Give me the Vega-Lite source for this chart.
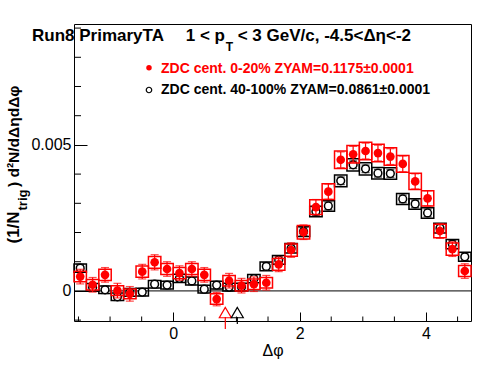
{
  "$schema": "https://vega.github.io/schema/vega-lite/v6.json",
  "width": 397,
  "height": 297,
  "autosize": {"type": "none"},
  "padding": {"left": 74, "top": 24, "right": 25, "bottom": 53},
  "background": "white",
  "config": {
    "view": {"stroke": "black", "strokeWidth": 1},
    "axis": {"domain": false, "grid": false, "labelFont": "Liberation Sans", "labelFontSize": 16, "labelColor": "black", "tickColor": "black", "titleFont": "Liberation Sans", "titleFontWeight": "normal", "titleColor": "black", "labelOverlap": false, "labelFlush": false}
  },
  "datasets": {
    "red": [
      {"phi": -1.4726, "lo": -1.5708, "hi": -1.3744, "v": 0.00049, "e": 0.00025, "slo": 0.00031, "shi": 0.00067},
      {"phi": -1.2763, "lo": -1.3744, "hi": -1.1781, "v": 0.00021, "e": 0.00025, "slo": 0.00003, "shi": 0.00039},
      {"phi": -1.0799, "lo": -1.1781, "hi": -0.9817, "v": 0.00055, "e": 0.00025, "slo": 0.00036, "shi": 0.00074},
      {"phi": -0.8836, "lo": -0.9817, "hi": -0.7854, "v": 0.00001, "e": 0.00025, "slo": -0.00016, "shi": 0.00018},
      {"phi": -0.6872, "lo": -0.7854, "hi": -0.5890, "v": -0.0001, "e": 0.00025, "slo": -0.00027, "shi": 0.00007},
      {"phi": -0.4909, "lo": -0.5890, "hi": -0.3927, "v": 0.00066, "e": 0.00025, "slo": 0.00047, "shi": 0.00085},
      {"phi": -0.2945, "lo": -0.3927, "hi": -0.1963, "v": 0.00098, "e": 0.00026, "slo": 0.00078, "shi": 0.00118},
      {"phi": -0.0982, "lo": -0.1963, "hi": 0.0, "v": 0.00075, "e": 0.00025, "slo": 0.00056, "shi": 0.00094},
      {"phi": 0.0982, "lo": 0.0, "hi": 0.1963, "v": 0.00061, "e": 0.00025, "slo": 0.00042, "shi": 0.0008},
      {"phi": 0.2945, "lo": 0.1963, "hi": 0.3927, "v": 0.00075, "e": 0.00025, "slo": 0.00056, "shi": 0.00094},
      {"phi": 0.4909, "lo": 0.3927, "hi": 0.5890, "v": 0.00055, "e": 0.00025, "slo": 0.00036, "shi": 0.00074},
      {"phi": 0.6872, "lo": 0.5890, "hi": 0.7854, "v": -0.00028, "e": 0.00023, "slo": -0.00046, "shi": -0.0001},
      {"phi": 0.8836, "lo": 0.7854, "hi": 0.9817, "v": 0.00035, "e": 0.00025, "slo": 0.00017, "shi": 0.00053},
      {"phi": 1.0799, "lo": 0.9817, "hi": 1.1781, "v": 0.00018, "e": 0.00025, "slo": 0.0, "shi": 0.00036},
      {"phi": 1.2763, "lo": 1.1781, "hi": 1.3744, "v": 0.00023, "e": 0.00025, "slo": 0.00005, "shi": 0.00041},
      {"phi": 1.4726, "lo": 1.3744, "hi": 1.5708, "v": 0.00028, "e": 0.00025, "slo": 0.0001, "shi": 0.00046},
      {"phi": 1.669, "lo": 1.5708, "hi": 1.7671, "v": 0.00091, "e": 0.00025, "slo": 0.00071, "shi": 0.00111},
      {"phi": 1.8653, "lo": 1.7671, "hi": 1.9635, "v": 0.0014, "e": 0.00025, "slo": 0.00119, "shi": 0.00161},
      {"phi": 2.0617, "lo": 1.9635, "hi": 2.1598, "v": 0.00201, "e": 0.00025, "slo": 0.00178, "shi": 0.00224},
      {"phi": 2.258, "lo": 2.1598, "hi": 2.3562, "v": 0.00287, "e": 0.00026, "slo": 0.00262, "shi": 0.00312},
      {"phi": 2.4544, "lo": 2.3562, "hi": 2.5525, "v": 0.0034, "e": 0.00026, "slo": 0.00313, "shi": 0.00367},
      {"phi": 2.6507, "lo": 2.5525, "hi": 2.7489, "v": 0.00449, "e": 0.00027, "slo": 0.00419, "shi": 0.00479},
      {"phi": 2.8471, "lo": 2.7489, "hi": 2.9452, "v": 0.00468, "e": 0.00027, "slo": 0.00438, "shi": 0.00498},
      {"phi": 3.0434, "lo": 2.9452, "hi": 3.1416, "v": 0.00479, "e": 0.00027, "slo": 0.00449, "shi": 0.00509},
      {"phi": 3.2398, "lo": 3.1416, "hi": 3.3379, "v": 0.00472, "e": 0.00027, "slo": 0.00442, "shi": 0.00502},
      {"phi": 3.4361, "lo": 3.3379, "hi": 3.5343, "v": 0.0046, "e": 0.00027, "slo": 0.0043, "shi": 0.0049},
      {"phi": 3.6325, "lo": 3.5343, "hi": 3.7306, "v": 0.00435, "e": 0.00027, "slo": 0.00406, "shi": 0.00464},
      {"phi": 3.8288, "lo": 3.7306, "hi": 3.927, "v": 0.00375, "e": 0.00026, "slo": 0.00347, "shi": 0.00403},
      {"phi": 4.0252, "lo": 3.927, "hi": 4.1233, "v": 0.00317, "e": 0.00026, "slo": 0.00291, "shi": 0.00343},
      {"phi": 4.2215, "lo": 4.1233, "hi": 4.3197, "v": 0.00205, "e": 0.00025, "slo": 0.00182, "shi": 0.00228},
      {"phi": 4.4179, "lo": 4.3197, "hi": 4.516, "v": 0.00143, "e": 0.00025, "slo": 0.00122, "shi": 0.00164},
      {"phi": 4.6142, "lo": 4.516, "hi": 4.7124, "v": 0.00068, "e": 0.00025, "slo": 0.00049, "shi": 0.00087}
    ],
    "black": [
      {"phi": -1.4726, "lo": -1.5708, "hi": -1.3744, "v": 0.00078, "e": 0.00013, "slo": 0.00064, "shi": 0.00092},
      {"phi": -1.2763, "lo": -1.3744, "hi": -1.1781, "v": 0.00012, "e": 0.00013, "slo": -0.00001, "shi": 0.00025},
      {"phi": -1.0799, "lo": -1.1781, "hi": -0.9817, "v": 0.00004, "e": 0.00013, "slo": -0.00009, "shi": 0.00017},
      {"phi": -0.8836, "lo": -0.9817, "hi": -0.7854, "v": -0.0002, "e": 0.00013, "slo": -0.00033, "shi": -0.00007},
      {"phi": -0.6872, "lo": -0.7854, "hi": -0.5890, "v": -0.00005, "e": 0.00013, "slo": -0.00018, "shi": 0.00008},
      {"phi": -0.4909, "lo": -0.5890, "hi": -0.3927, "v": -0.00004, "e": 0.00013, "slo": -0.00017, "shi": 0.00009},
      {"phi": -0.2945, "lo": -0.3927, "hi": -0.1963, "v": 0.00023, "e": 0.00013, "slo": 0.0001, "shi": 0.00036},
      {"phi": -0.0982, "lo": -0.1963, "hi": 0.0, "v": 0.0002, "e": 0.00013, "slo": 0.00007, "shi": 0.00033},
      {"phi": 0.0982, "lo": 0.0, "hi": 0.1963, "v": 0.00043, "e": 0.00013, "slo": 0.00029, "shi": 0.00057},
      {"phi": 0.2945, "lo": 0.1963, "hi": 0.3927, "v": 0.00034, "e": 0.00013, "slo": 0.0002, "shi": 0.00048},
      {"phi": 0.4909, "lo": 0.3927, "hi": 0.5890, "v": 0.00006, "e": 0.00013, "slo": -0.00007, "shi": 0.00019},
      {"phi": 0.6872, "lo": 0.5890, "hi": 0.7854, "v": 0.0002, "e": 0.00013, "slo": 0.00007, "shi": 0.00033},
      {"phi": 0.8836, "lo": 0.7854, "hi": 0.9817, "v": 0.00013, "e": 0.00013, "slo": 0.0, "shi": 0.00026},
      {"phi": 1.0799, "lo": 0.9817, "hi": 1.1781, "v": 0.00013, "e": 0.00013, "slo": 0.0, "shi": 0.00026},
      {"phi": 1.2763, "lo": 1.1781, "hi": 1.3744, "v": 0.00042, "e": 0.00013, "slo": 0.00028, "shi": 0.00056},
      {"phi": 1.4726, "lo": 1.3744, "hi": 1.5708, "v": 0.00084, "e": 0.00013, "slo": 0.00069, "shi": 0.00099},
      {"phi": 1.669, "lo": 1.5708, "hi": 1.7671, "v": 0.00106, "e": 0.00013, "slo": 0.00091, "shi": 0.00121},
      {"phi": 1.8653, "lo": 1.7671, "hi": 1.9635, "v": 0.00146, "e": 0.00013, "slo": 0.0013, "shi": 0.00162},
      {"phi": 2.0617, "lo": 1.9635, "hi": 2.1598, "v": 0.00203, "e": 0.00013, "slo": 0.00186, "shi": 0.0022},
      {"phi": 2.258, "lo": 2.1598, "hi": 2.3562, "v": 0.00272, "e": 0.00013, "slo": 0.00254, "shi": 0.0029},
      {"phi": 2.4544, "lo": 2.3562, "hi": 2.5525, "v": 0.00291, "e": 0.00013, "slo": 0.00273, "shi": 0.00309},
      {"phi": 2.6507, "lo": 2.5525, "hi": 2.7489, "v": 0.00377, "e": 0.00013, "slo": 0.00357, "shi": 0.00397},
      {"phi": 2.8471, "lo": 2.7489, "hi": 2.9452, "v": 0.00432, "e": 0.00013, "slo": 0.00411, "shi": 0.00453},
      {"phi": 3.0434, "lo": 2.9452, "hi": 3.1416, "v": 0.00418, "e": 0.00013, "slo": 0.00397, "shi": 0.00439},
      {"phi": 3.2398, "lo": 3.1416, "hi": 3.3379, "v": 0.00403, "e": 0.00013, "slo": 0.00383, "shi": 0.00423},
      {"phi": 3.4361, "lo": 3.3379, "hi": 3.5343, "v": 0.00402, "e": 0.00013, "slo": 0.00382, "shi": 0.00422},
      {"phi": 3.6325, "lo": 3.5343, "hi": 3.7306, "v": 0.00315, "e": 0.00013, "slo": 0.00296, "shi": 0.00334},
      {"phi": 3.8288, "lo": 3.7306, "hi": 3.927, "v": 0.00298, "e": 0.00013, "slo": 0.0028, "shi": 0.00316},
      {"phi": 4.0252, "lo": 3.927, "hi": 4.1233, "v": 0.00267, "e": 0.00013, "slo": 0.00249, "shi": 0.00285},
      {"phi": 4.2215, "lo": 4.1233, "hi": 4.3197, "v": 0.00215, "e": 0.00013, "slo": 0.00198, "shi": 0.00232},
      {"phi": 4.4179, "lo": 4.3197, "hi": 4.516, "v": 0.0016, "e": 0.00013, "slo": 0.00144, "shi": 0.00176},
      {"phi": 4.6142, "lo": 4.516, "hi": 4.7124, "v": 0.00117, "e": 0.00013, "slo": 0.00102, "shi": 0.00132}
    ],
    "xminor": [{"t": -1.5}, {"t": -1}, {"t": -0.5}, {"t": 0.5}, {"t": 1}, {"t": 1.5}, {"t": 2.5}, {"t": 3}, {"t": 3.5}, {"t": 4.5}],
    "yminor": [{"t": -0.001}, {"t": 0.001}, {"t": 0.002}, {"t": 0.003}, {"t": 0.004}, {"t": 0.006}, {"t": 0.007}, {"t": 0.008}, {"t": 0.009}],
    "one": [{}]
  },
  "layer": [
    {
      "data": {"name": "black"},
      "mark": {"type": "rect", "fillOpacity": 0, "stroke": "black", "strokeWidth": 1.5},
      "encoding": {
        "x": {"field": "lo", "type": "quantitative",
          "scale": {"domain": [-1.5708, 4.7124], "nice": false, "zero": false},
          "axis": {"values": [0, 2, 4], "format": "d", "tickSize": -9,
            "labelOverlap": false, "labelPadding": 13, "title": "Δφ", "titleFontSize": 16, "titlePadding": 1}},
        "x2": {"field": "hi"},
        "y": {"field": "slo", "type": "quantitative",
          "scale": {"domain": [-0.00103, 0.00914], "nice": false, "zero": false},
          "axis": {"values": [0, 0.005], "format": "~g", "tickSize": -13,
            "labelOverlap": false, "labelPadding": 16, "title": null}},
        "y2": {"field": "shi"}
      }
    },
    {
      "data": {"name": "one"},
      "mark": {"type": "rule", "color": "black", "strokeWidth": 1},
      "encoding": {"y": {"datum": 0, "type": "quantitative"}}
    },
    {
      "data": {"name": "xminor"},
      "mark": {"type": "rule", "color": "black", "strokeWidth": 1},
      "encoding": {"x": {"field": "t", "type": "quantitative"}, "y": {"datum": -0.00103, "type": "quantitative"}, "y2": {"datum": -0.000876}}
    },
    {
      "data": {"name": "yminor"},
      "mark": {"type": "rule", "color": "black", "strokeWidth": 1},
      "encoding": {"y": {"field": "t", "type": "quantitative"}, "x": {"datum": -1.5708, "type": "quantitative"}, "x2": {"datum": -1.46}}
    },
    {
      "data": {"name": "black"},
      "mark": {"type": "errorbar", "color": "black", "thickness": 1.2, "ticks": {"size": 8}},
      "encoding": {
        "x": {"field": "phi", "type": "quantitative"},
        "y": {"field": "v", "type": "quantitative"},
        "yError": {"field": "e"}
      }
    },
    {
      "data": {"name": "black"},
      "mark": {"type": "point", "shape": "circle", "filled": true, "fill": "white", "stroke": "black", "strokeWidth": 1.5, "size": 60, "opacity": 1},
      "encoding": {
        "x": {"field": "phi", "type": "quantitative"},
        "y": {"field": "v", "type": "quantitative"}
      }
    },
    {
      "data": {"name": "red"},
      "mark": {"type": "rect", "fillOpacity": 0, "stroke": "#ff0000", "strokeWidth": 1.5},
      "encoding": {
        "x": {"field": "lo", "type": "quantitative"},
        "x2": {"field": "hi"},
        "y": {"field": "slo", "type": "quantitative"},
        "y2": {"field": "shi"}
      }
    },
    {
      "data": {"name": "red"},
      "mark": {"type": "errorbar", "color": "#ff0000", "thickness": 1.2, "ticks": {"size": 8}},
      "encoding": {
        "x": {"field": "phi", "type": "quantitative"},
        "y": {"field": "v", "type": "quantitative"},
        "yError": {"field": "e"}
      }
    },
    {
      "data": {"name": "red"},
      "mark": {"type": "point", "shape": "circle", "filled": true, "color": "#ff0000", "size": 75, "opacity": 1},
      "encoding": {
        "x": {"field": "phi", "type": "quantitative"},
        "y": {"field": "v", "type": "quantitative"}
      }
    },
    {
      "data": {"name": "one"},
      "mark": {"type": "rule", "color": "#ff0000", "strokeWidth": 1.2},
      "encoding": {"x": {"datum": 0.824, "type": "quantitative"}, "y": {"datum": -0.00089, "type": "quantitative"}, "y2": {"datum": -0.0013}}
    },
    {
      "data": {"name": "one"},
      "mark": {"type": "rule", "color": "black", "strokeWidth": 1.2},
      "encoding": {"x": {"datum": 1.014, "type": "quantitative"}, "y": {"datum": -0.00089, "type": "quantitative"}, "y2": {"datum": -0.00113}}
    },
    {
      "data": {"name": "one"},
      "mark": {"type": "point", "shape": "triangle-up", "filled": false, "stroke": "#ff0000", "strokeWidth": 1.2, "size": 144, "opacity": 1},
      "encoding": {"x": {"datum": 0.824, "type": "quantitative"}, "y": {"datum": -0.00074, "type": "quantitative"}}
    },
    {
      "data": {"name": "one"},
      "mark": {"type": "point", "shape": "triangle-up", "filled": false, "stroke": "black", "strokeWidth": 1.2, "size": 144, "opacity": 1},
      "encoding": {"x": {"datum": 1.014, "type": "quantitative"}, "y": {"datum": -0.00074, "type": "quantitative"}}
    },
    {
      "data": {"name": "one"},
      "mark": {"type": "text", "text": "Run8 PrimaryTA", "font": "Liberation Sans", "fontWeight": "bold", "fontSize": 17, "align": "left", "baseline": "alphabetic", "color": "black"},
      "encoding": {"x": {"datum": -2.235, "type": "quantitative"}, "y": {"datum": 0.008568, "type": "quantitative"}}
    },
    {
      "data": {"name": "one"},
      "mark": {"type": "text", "text": "1 < p", "font": "Liberation Sans", "fontWeight": "bold", "fontSize": 17, "align": "left", "baseline": "alphabetic", "color": "black"},
      "encoding": {"x": {"datum": 0.197, "type": "quantitative"}, "y": {"datum": 0.008541, "type": "quantitative"}}
    },
    {
      "data": {"name": "one"},
      "mark": {"type": "text", "text": "T", "font": "Liberation Sans", "fontWeight": "bold", "fontSize": 12, "align": "left", "baseline": "alphabetic", "color": "black"},
      "encoding": {"x": {"datum": 0.83, "type": "quantitative"}, "y": {"datum": 0.008215, "type": "quantitative"}}
    },
    {
      "data": {"name": "one"},
      "mark": {"type": "text", "text": "< 3 GeV/c, -4.5<Δη<-2", "font": "Liberation Sans", "fontWeight": "bold", "fontSize": 17, "align": "left", "baseline": "alphabetic", "color": "black"},
      "encoding": {"x": {"datum": 1.02, "type": "quantitative"}, "y": {"datum": 0.008541, "type": "quantitative"}}
    },
    {
      "data": {"name": "one"},
      "mark": {"type": "point", "shape": "circle", "filled": true, "color": "#ff0000", "size": 30, "opacity": 1},
      "encoding": {"x": {"datum": -0.384, "type": "quantitative"}, "y": {"datum": 0.007644, "type": "quantitative"}}
    },
    {
      "data": {"name": "one"},
      "mark": {"type": "text", "text": "ZDC cent. 0-20% ZYAM=0.1175±0.0001", "font": "Liberation Sans", "fontWeight": "bold", "fontSize": 14, "align": "left", "baseline": "alphabetic", "color": "#ff0000"},
      "encoding": {"x": {"datum": -0.194, "type": "quantitative"}, "y": {"datum": 0.007452, "type": "quantitative"}}
    },
    {
      "data": {"name": "one"},
      "mark": {"type": "point", "shape": "circle", "filled": false, "stroke": "black", "strokeWidth": 1.2, "size": 30, "opacity": 1},
      "encoding": {"x": {"datum": -0.384, "type": "quantitative"}, "y": {"datum": 0.00688, "type": "quantitative"}}
    },
    {
      "data": {"name": "one"},
      "mark": {"type": "text", "text": "ZDC cent. 40-100% ZYAM=0.0861±0.0001", "font": "Liberation Sans", "fontWeight": "bold", "fontSize": 14, "align": "left", "baseline": "alphabetic", "color": "black"},
      "encoding": {"x": {"datum": -0.194, "type": "quantitative"}, "y": {"datum": 0.006743, "type": "quantitative"}}
    },
    {
      "data": {"name": "one"},
      "mark": {"type": "text", "text": "(1/N", "angle": 270, "font": "Liberation Sans", "fontWeight": "bold", "fontSize": 17, "align": "left", "baseline": "alphabetic", "color": "black"},
      "encoding": {"x": {"datum": -2.449, "type": "quantitative"}, "y": {"datum": 0.001624, "type": "quantitative"}}
    },
    {
      "data": {"name": "one"},
      "mark": {"type": "text", "text": "trig", "angle": 270, "font": "Liberation Sans", "fontWeight": "bold", "fontSize": 13, "align": "left", "baseline": "alphabetic", "color": "black"},
      "encoding": {"x": {"datum": -2.322, "type": "quantitative"}, "y": {"datum": 0.002754, "type": "quantitative"}}
    },
    {
      "data": {"name": "one"},
      "mark": {"type": "text", "text": ") d²N/dΔηdΔφ", "angle": 270, "font": "Liberation Sans", "fontWeight": "bold", "fontSize": 15.5, "align": "left", "baseline": "alphabetic", "color": "black"},
      "encoding": {"x": {"datum": -2.449, "type": "quantitative"}, "y": {"datum": 0.003559, "type": "quantitative"}}
    }
  ]
}
